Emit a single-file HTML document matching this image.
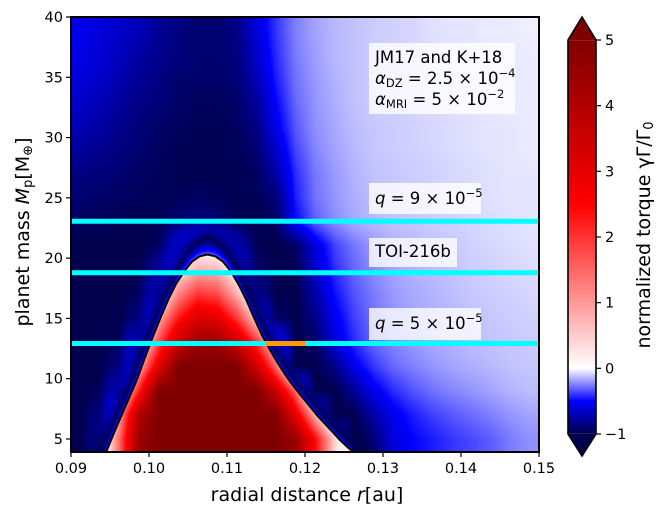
<!DOCTYPE html>
<html><head><meta charset="utf-8">
<style>
html,body{margin:0;padding:0;background:#fff;}
#wrap{position:relative;width:664px;height:518px;overflow:hidden;font-family:"DejaVu Sans","Liberation Sans",sans-serif;}
canvas,svg{position:absolute;left:0;top:0;}
</style></head>
<body>
<div id="wrap">
<canvas id="heat" width="664" height="518"></canvas>
<svg id="ov" width="664" height="518"></svg>
</div>
<script>
// ---- data ----
const rCenters = [0.09125,0.09375,0.09625,0.09875,0.10125,0.10375,0.10625,0.10875,0.11125,0.11375,0.11625,0.11875,0.12125,0.12375,0.12625,0.12875,0.13125,0.13375,0.13625,0.13875,0.14125,0.14375,0.14625,0.14875];
const mCenters = [5,7,9,11,13,15,17,19,21,23,25,27,29,31,33,35,37,39];
const row05 = [-1,-0.6,1.5,4.5,5,5,5,5,5,5,5,4.5,2.5,0.5,-1,-0.9,-0.6,-0.5,-0.45,-0.4,-0.36,-0.32,-0.26,-0.22];
const row07 = [-1,-0.8,1.0,4,5,5,5,5,5,5,5,3,0.8,-1,-1,-0.75,-0.55,-0.45,-0.38,-0.33,-0.29,-0.25,-0.21,-0.18];
const row09 = [-1,-0.95,-0.3,2.2,5,5,5,5,5,5,3.5,1.5,-1,-1,-0.8,-0.55,-0.42,-0.34,-0.28,-0.24,-0.21,-0.18,-0.15,-0.13];
const row11 = [-1,-1,-0.8,0.8,3,5,5,5,5,3.5,1.5,-1,-1,-0.85,-0.55,-0.4,-0.3,-0.25,-0.21,-0.18,-0.16,-0.14,-0.12,-0.11];
const row13 = [-1,-1,-0.95,-0.2,1.8,3.5,4.5,4.5,3.5,2.0,0.3,-1,-0.95,-0.6,-0.42,-0.3,-0.24,-0.2,-0.17,-0.15,-0.13,-0.12,-0.11,-0.1];
const row15 = [-1,-1,-1,-0.8,0.8,2.3,3.2,3.0,2.0,0.5,-0.9,-1,-0.85,-0.55,-0.38,-0.28,-0.22,-0.18,-0.16,-0.14,-0.12,-0.11,-0.1,-0.09];
const row17 = [-1,-1,-1,-0.95,-0.3,1.2,2.0,1.8,0.8,-0.6,-1,-1,-0.75,-0.48,-0.34,-0.26,-0.2,-0.17,-0.15,-0.13,-0.11,-0.1,-0.09,-0.08];
const row19 = [-1,-1,-1,-1,-0.7,0.2,0.8,0.7,0,-0.9,-1,-0.98,-0.65,-0.42,-0.3,-0.23,-0.18,-0.15,-0.13,-0.12,-0.1,-0.09,-0.08,-0.07];
const row21 = [-1,-1,-1,-1,-0.95,-0.5,-0.1,-0.2,-0.6,-0.98,-1,-0.95,-0.6,-0.38,-0.27,-0.2,-0.16,-0.14,-0.12,-0.11,-0.09,-0.08,-0.07,-0.06];
const row23 = [-0.95,-0.97,-0.98,-0.99,-0.98,-0.9,-0.85,-0.9,-0.98,-1,-0.95,-0.5,-0.32,-0.23,-0.17,-0.14,-0.12,-0.11,-0.1,-0.09,-0.08,-0.07,-0.06,-0.05];
const row25 = [-0.9,-0.92,-0.94,-0.96,-0.97,-0.96,-0.94,-0.96,-0.98,-0.98,-0.88,-0.45,-0.28,-0.21,-0.16,-0.13,-0.11,-0.1,-0.09,-0.08,-0.07,-0.06,-0.05,-0.05];
const row27 = [-0.85,-0.88,-0.9,-0.93,-0.96,-0.98,-0.99,-0.99,-0.98,-0.95,-0.75,-0.42,-0.27,-0.2,-0.15,-0.12,-0.11,-0.1,-0.09,-0.08,-0.07,-0.06,-0.05,-0.05];
const row29 = [-0.78,-0.82,-0.86,-0.9,-0.94,-0.97,-0.98,-0.98,-0.97,-0.9,-0.65,-0.37,-0.24,-0.18,-0.14,-0.11,-0.1,-0.09,-0.08,-0.07,-0.06,-0.05,-0.05,-0.04];
const row31 = [-0.7,-0.75,-0.82,-0.88,-0.92,-0.95,-0.97,-0.97,-0.95,-0.85,-0.55,-0.33,-0.22,-0.17,-0.13,-0.11,-0.1,-0.09,-0.08,-0.07,-0.06,-0.05,-0.05,-0.04];
const row33 = [-0.65,-0.7,-0.77,-0.84,-0.88,-0.92,-0.95,-0.95,-0.92,-0.78,-0.5,-0.3,-0.21,-0.16,-0.12,-0.1,-0.09,-0.08,-0.07,-0.06,-0.05,-0.05,-0.04,-0.04];
const row35 = [-0.6,-0.65,-0.72,-0.8,-0.85,-0.9,-0.92,-0.92,-0.88,-0.7,-0.45,-0.28,-0.2,-0.15,-0.12,-0.1,-0.09,-0.08,-0.07,-0.06,-0.05,-0.05,-0.04,-0.04];
const row37 = [-0.57,-0.62,-0.68,-0.75,-0.82,-0.87,-0.9,-0.9,-0.86,-0.65,-0.42,-0.26,-0.19,-0.14,-0.12,-0.1,-0.09,-0.08,-0.07,-0.06,-0.05,-0.04,-0.04,-0.04];
const row39 = [-0.55,-0.6,-0.65,-0.7,-0.8,-0.85,-0.9,-0.9,-0.85,-0.6,-0.4,-0.25,-0.18,-0.14,-0.12,-0.1,-0.09,-0.08,-0.06,-0.05,-0.05,-0.04,-0.04,-0.03];
const torqueRows = [row05,row07,row09,row11,row13,row15,row17,row19,row21,row23,row25,row27,row29,row31,row33,row35,row37,row39];
const contourR = [0.0945,0.0955,0.0965,0.0975,0.0985,0.0995,0.1005,0.1015,0.1025,0.1035,0.1045,0.1055,0.1065,0.1075,0.1085,0.1095,0.1105,0.1115,0.1125,0.1135,0.1145,0.1155,0.1165,0.1175,0.1185,0.1195,0.1205,0.1215,0.1225,0.1235,0.1245,0.1255,0.1262];
const contourM = [3.9,5.5,7,8.5,10,11.8,13.5,15.1,16.6,17.9,18.9,19.7,20.15,20.3,20.15,19.7,18.9,17.8,16.5,15.0,13.6,12.4,11.3,10.3,9.4,8.6,7.8,7.0,6.3,5.6,4.9,4.3,3.9];
const massLines = [23.06,18.79,12.92];
const orangeR = [0.115,0.120];
const orangeM = 12.92;
const xTicks = [0.09,0.10,0.11,0.12,0.13,0.14,0.15];
const xTickLabels = ["0.09","0.10","0.11","0.12","0.13","0.14","0.15"];
const yTicks = [5,10,15,20,25,30,35,40];
const cTicks = [-1,0,1,2,3,4,5];

// ---- axes ----
const X0=71,X1=539,Y0=17,Y1=452;
const rMin=0.09,rMax=0.15,mMin=3.92,mMax=40;
const x = r => X0+(r-rMin)/(rMax-rMin)*(X1-X0);
const y = m => Y0+(mMax-m)/(mMax-mMin)*(Y1-Y0);
const xinv = px => rMin+(px-X0)/(X1-X0)*(rMax-rMin);
const yinv = py => mMax-(py-Y0)/(Y1-Y0)*(mMax-mMin);
const CB_TOP=40,CB_BOT=434,CB_L=568,CB_R=596;
const cy = v => CB_BOT-(v+1)/6*(CB_BOT-CB_TOP);

function cmap(v){
  let t = v<0 ? 0.5*(Math.max(v,-1)+1) : 0.5+0.5*Math.min(v,5)/5;
  const st=[[0,0,0,0.3],[0.25,0,0,1],[0.5,1,1,1],[0.75,1,0,0],[1,0.5,0,0]];
  for(let i=0;i<4;i++){ if(t<=st[i+1][0]){ const a=st[i],b=st[i+1],f=(t-a[0])/(b[0]-a[0]);
    return [0,1,2].map(k=>Math.round(255*(a[k+1]+(b[k+1]-a[k+1])*f))); } }
  return [128,0,0];
}
function sample(r,m){
  const nc=rCenters.length,nr=mCenters.length;
  let fc=(r-rCenters[0])/(rCenters[1]-rCenters[0]); fc=Math.max(0,Math.min(nc-1,fc));
  let fr=(m-mCenters[0])/(mCenters[1]-mCenters[0]); fr=Math.max(0,Math.min(nr-1,fr));
  const c0=Math.min(Math.floor(fc),nc-2), r0=Math.min(Math.floor(fr),nr-2);
  const a=fc-c0,b=fr-r0;
  const v00=torqueRows[r0][c0],v01=torqueRows[r0][c0+1],v10=torqueRows[r0+1][c0],v11=torqueRows[r0+1][c0+1];
  return (v00*(1-a)+v01*a)*(1-b)+(v10*(1-a)+v11*a)*b;
}
let peakIdx=0; contourM.forEach((m,i)=>{ if(m>contourM[peakIdx]) peakIdx=i; });
function bounds(m){
  if(m>contourM[peakIdx]) return null;
  let L=null,R=null;
  for(let i=0;i<peakIdx;i++){ const a=contourM[i],b=contourM[i+1]; if(m>=a&&m<=b){ L=contourR[i]+(contourR[i+1]-contourR[i])*(m-a)/(b-a); break; } }
  for(let i=peakIdx;i<contourM.length-1;i++){ const a=contourM[i],b=contourM[i+1]; if(m<=a&&m>=b){ R=contourR[i]+(contourR[i+1]-contourR[i])*(a-m)/(a-b); break; } }
  if(L===null) L=contourR[0]; if(R===null) R=contourR[contourR.length-1];
  return [L,R];
}
const cpx=contourR.map(r=>x(r)), cpy=contourM.map(m=>y(m));
function distPx(px,py){
  let best=1e9;
  for(let i=0;i<cpx.length-1;i++){
    const ax=cpx[i],ay=cpy[i],bx=cpx[i+1],by=cpy[i+1];
    const dx=bx-ax,dy=by-ay; let t=((px-ax)*dx+(py-ay)*dy)/(dx*dx+dy*dy); t=Math.max(0,Math.min(1,t));
    const ex=ax+t*dx-px,ey=ay+t*dy-py; const d2=ex*ex+ey*ey; if(d2<best) best=d2;
  }
  return Math.sqrt(best);
}
const peakX=cpx[peakIdx], peakY=cpy[peakIdx];
const cv=document.getElementById('heat'); const ctx=cv.getContext('2d');
const W=X1-X0,H=Y1-Y0; const img=ctx.createImageData(W,H);
for(let j=0;j<H;j++){ const py=Y0+j+0.5; const m=yinv(py); const bd=bounds(m);
  for(let i=0;i<W;i++){ const px=X0+i+0.5; const r=xinv(px); let v=sample(r,m);
    const inside = bd && r>=bd[0] && r<=bd[1];
    if(inside) v=Math.max(v,0.15);
    else if(py>peakY-40 && Math.abs(px-peakX)<160){
      const dist=distPx(px,py);
      if(dist<30){
        const topF=Math.exp(-Math.pow((px-peakX)/22,2))*(py<peakY+25?1:0);
        const ringW=4+12*topF;
        const target=-0.3-0.7*Math.min(1,dist/ringW);
        const w=dist<=ringW?0:(dist-ringW)/(30-ringW);
        const lim=(1-w)*target+w*v;
        v=Math.min(v,lim);
      }
    }
    const c=cmap(v); const k=(j*W+i)*4;
    img.data[k]=c[0];img.data[k+1]=c[1];img.data[k+2]=c[2];img.data[k+3]=255; } }
ctx.putImageData(img,X0,Y0);
const ch=CB_BOT-CB_TOP; const cimg=ctx.createImageData(CB_R-CB_L,ch);
for(let j=0;j<ch;j++){ const v=5-(j+0.5)/ch*6; const c=cmap(v);
  for(let i=0;i<CB_R-CB_L;i++){ const k=(j*(CB_R-CB_L)+i)*4; cimg.data[k]=c[0];cimg.data[k+1]=c[1];cimg.data[k+2]=c[2];cimg.data[k+3]=255; } }
ctx.putImageData(cimg,CB_L,CB_TOP);

// ---- overlay ----
const svg=document.getElementById('ov'); const NS='http://www.w3.org/2000/svg';
function mk(tag,attrs,parent){ const e=document.createElementNS(NS,tag); for(const k in attrs) e.setAttribute(k,attrs[k]); (parent||svg).appendChild(e); return e; }

let d=''; contourR.forEach((r,i)=>{ d+=(i?'L':'M')+x(r).toFixed(1)+','+y(contourM[i]).toFixed(1); });
const cont=mk('path',{d:d,fill:'none',stroke:'#000','stroke-width':2,'stroke-linejoin':'round'});



massLines.forEach((m,i)=>{
  const l=mk('line',{x1:X0,x2:X1,y1:y(m),y2:y(m),stroke:'#00ffff','stroke-width':5});
  
  
});
const ol=mk('line',{x1:x(orangeR[0]),x2:x(orangeR[1]),y1:y(orangeM),y2:y(orangeM),stroke:'#ff9900','stroke-width':5});



const boxes=[[369,43,146,71],[369,183,112,31],[369,238,88,29],[369,308,112,32]];
boxes.forEach((b,i)=>{
  const r=mk('rect',{x:b[0],y:b[1],width:b[2],height:b[3],fill:'#fff','fill-opacity':0.8});
  
  
});

const fr=mk('rect',{x:X0,y:Y0,width:X1-X0,height:Y1-Y0,fill:'none',stroke:'#000','stroke-width':2});



xTicks.forEach((t,i)=>{
  const tl=mk('line',{x1:x(t),x2:x(t),y1:Y1,y2:Y1+5,stroke:'#000','stroke-width':1.2});
  
  
  const tx=mk('text',{x:x(t),y:Y1+21,'text-anchor':'middle','font-size':14.5,fill:'#000'});
  tx.textContent=xTickLabels[i];
  
  
});
yTicks.forEach(t=>{
  const tl=mk('line',{x1:X0-5,x2:X0,y1:y(t),y2:y(t),stroke:'#000','stroke-width':1.2});
  
  
  const tx=mk('text',{x:X0-8,y:y(t)+5,'text-anchor':'end','font-size':14.5,fill:'#000'});
  tx.textContent=String(t);
  
  
});
const cbp='M'+CB_L+','+CB_TOP+' L'+((CB_L+CB_R)/2)+',17 L'+CB_R+','+CB_TOP+' L'+CB_R+','+CB_BOT+' L'+((CB_L+CB_R)/2)+',456 L'+CB_L+','+CB_BOT+' Z';
const cbTop=mk('path',{d:'M'+CB_L+','+CB_TOP+' L'+((CB_L+CB_R)/2)+',17 L'+CB_R+','+CB_TOP+' Z',fill:'rgb(128,0,0)'});


const cbBot=mk('path',{d:'M'+CB_L+','+CB_BOT+' L'+((CB_L+CB_R)/2)+',456 L'+CB_R+','+CB_BOT+' Z',fill:'rgb(0,0,77)'});


const cbo=mk('path',{d:cbp,fill:'none',stroke:'#000','stroke-width':1.6});


cTicks.forEach(t=>{
  const tl=mk('line',{x1:CB_R,x2:CB_R+5,y1:cy(t),y2:cy(t),stroke:'#000','stroke-width':1.2});
  
  
  const tx=mk('text',{x:CB_R+9,y:cy(t)+5,'font-size':14.5,fill:'#000'});
  tx.textContent=(t<0?'\u2212'+(-t):String(t));
  
  
});
</script>
<svg width="664" height="518" style="position:absolute;left:0;top:0;pointer-events:none">
 <g font-family="DejaVu Sans, Liberation Sans, sans-serif" fill="#000">
  <text x="375" y="63" font-size="16.5">JM17 and K+18</text>
  <text x="375" y="84" font-size="16.5"><tspan font-style="italic">α</tspan><tspan font-size="11.5" dy="3">DZ</tspan><tspan dy="-3"> = 2.5 × 10</tspan><tspan font-size="11.5" dy="-7">−4</tspan></text>
  <text x="375" y="105" font-size="16.5"><tspan font-style="italic">α</tspan><tspan font-size="11.5" dy="3">MRI</tspan><tspan dy="-3"> = 5 × 10</tspan><tspan font-size="11.5" dy="-7">−2</tspan></text>
  <text x="375" y="204" font-size="16.5"><tspan font-style="italic">q</tspan> = 9 × 10<tspan font-size="11.5" dy="-7">−5</tspan></text>
  <text x="375" y="257" font-size="16.5">TOI-216b</text>
  <text x="375" y="329" font-size="16.5"><tspan font-style="italic">q</tspan> = 5 × 10<tspan font-size="11.5" dy="-7">−5</tspan></text>
  <text x="307" y="501" font-size="19" text-anchor="middle">radial distance <tspan font-style="italic">r</tspan>[au]</text>
  <text transform="translate(29,232) rotate(-90)" font-size="19" text-anchor="middle">planet mass <tspan font-style="italic">M</tspan><tspan font-size="13" dy="3">p</tspan><tspan dy="-3">[M</tspan><tspan font-size="13" dy="3">⊕</tspan><tspan dy="-3">]</tspan></text>
  <text transform="translate(650,235) rotate(-90)" font-size="19" text-anchor="middle">normalized torque γΓ/Γ<tspan font-size="13" dy="3">0</tspan></text>
 </g>
</svg>
</body></html>
